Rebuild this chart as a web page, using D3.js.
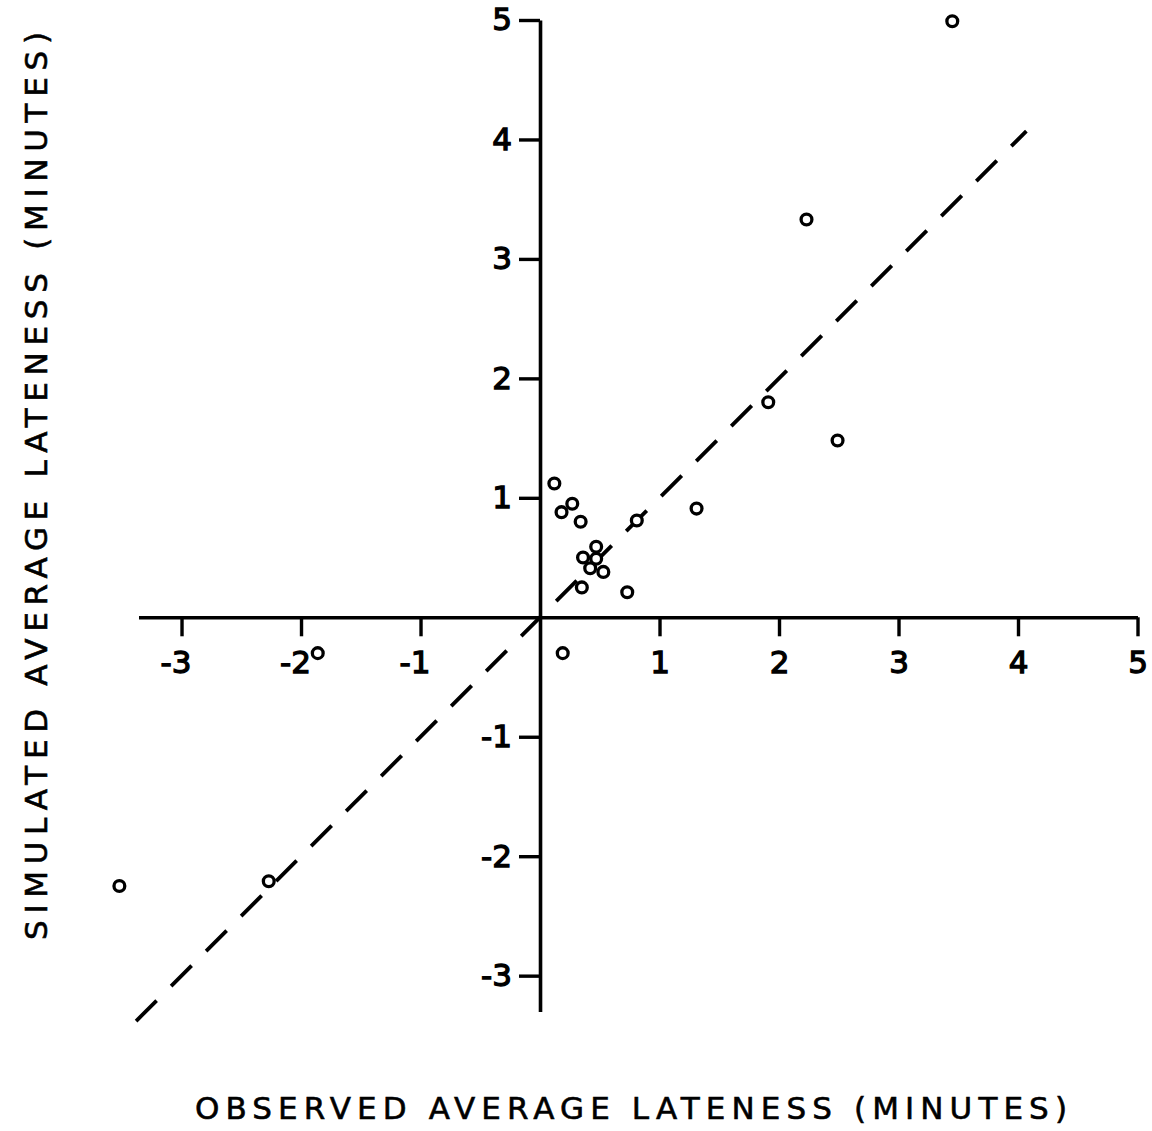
<!DOCTYPE html>
<html>
<head>
<meta charset="utf-8">
<script src="https://cdn.jsdelivr.net/npm/d3@7"></script>
<style>
  html, body { margin: 0; padding: 0; background: #fff; }
  svg { display: block; }
</style>
</head>
<body>
<svg id="chart" width="1152" height="1131"></svg>
<script>
// Observed vs simulated average lateness, one open circle per route
const observed  = [3.45, 2.23, 1.91, 2.49, 1.31, 0.81, 0.12, 0.18, 0.27, 0.34, 0.47, 0.36, 0.47, 0.42, 0.53, 0.35, 0.73, 0.19, -1.86, -2.27, -3.52];
const simulated = [4.99, 3.33, 1.80, 1.48, 0.91, 0.81, 1.12, 0.88, 0.95, 0.80, 0.59, 0.50, 0.49, 0.41, 0.38, 0.25, 0.21, -0.30, -0.30, -2.21, -2.25];

// Line of equality (simulated = observed)
const equalityLine = [-3.38, 4.07];

const xTicks = [-3, -2, -1, 1, 2, 3, 4, 5];
const yTicks = [-3, -2, -1, 1, 2, 3, 4, 5];
const xTickLabels = ["-3", "-2", "-1", "1", "2", "3", "4", "5"];
const yTickLabels = ["-3", "-2", "-1", "1", "2", "3", "4", "5"];

const xTitle = "OBSERVED AVERAGE LATENESS (MINUTES)";
const yTitle = "SIMULATED AVERAGE LATENESS (MINUTES)";

const svg = d3.select("#chart");
const font = "'DejaVu Sans', 'Liberation Sans', sans-serif";

const x = d3.scaleLinear().domain([-3.36, 5]).range([138.5, 1137.5]);
const y = d3.scaleLinear().domain([-3.3, 5]).range([1011.5, 20]);

// Axes cross at the origin
const xAxis = d3.axisBottom(x)
  .tickValues(xTicks)
  .tickFormat((d, i) => xTickLabels[i])
  .tickSizeInner(19)
  .tickSizeOuter(0)
  .tickPadding(15);

const yAxis = d3.axisLeft(y)
  .tickValues(yTicks)
  .tickFormat((d, i) => yTickLabels[i])
  .tickSizeInner(21)
  .tickSizeOuter(0)
  .tickPadding(7);

const gx = svg.append("g")
  .attr("transform", `translate(0,${y(0)})`)
  .call(xAxis);

const gy = svg.append("g")
  .attr("transform", `translate(${x(0)},0)`)
  .call(yAxis);

[gx, gy].forEach(g => {
  g.select(".domain").attr("stroke", "#000").attr("stroke-width", 3.6);
  g.selectAll(".tick line").attr("stroke", "#000").attr("stroke-width", 3.4);
  g.selectAll(".tick text")
    .attr("fill", "#000")
    .attr("stroke", "#000")
    .attr("stroke-width", 1.3)
    .style("font-family", font)
    .style("font-size", "31px");
});

// keep the digit of a negative label centred under its tick
gx.selectAll(".tick text").attr("dx", d => d < 0 ? -6 : 0);

// Dashed line of equality
svg.append("line")
  .attr("x1", x(equalityLine[0])).attr("y1", y(equalityLine[0]))
  .attr("x2", x(equalityLine[1])).attr("y2", y(equalityLine[1]))
  .attr("stroke", "#000")
  .attr("stroke-width", 3.8)
  .attr("stroke-dasharray", "29,20.5");

// Data points
svg.append("g")
  .selectAll("circle")
  .data(observed.map((o, i) => ({ o, s: simulated[i] })))
  .join("circle")
  .attr("cx", d => x(d.o))
  .attr("cy", d => y(d.s))
  .attr("r", 5.4)
  .attr("fill", "#fff")
  .attr("stroke", "#000")
  .attr("stroke-width", 3.3);

// Axis titles
svg.append("text")
  .attr("x", 631)
  .attr("y", 1119)
  .attr("text-anchor", "middle")
  .attr("textLength", 872)
  .attr("lengthAdjust", "spacing")
  .style("font-family", font)
  .style("font-size", "31px")
  .attr("fill", "#000")
  .attr("stroke", "#000")
  .attr("stroke-width", 0.6)
  .text(xTitle);

svg.append("text")
  .attr("transform", "translate(47,486) rotate(-90)")
  .attr("text-anchor", "middle")
  .attr("textLength", 908)
  .attr("lengthAdjust", "spacing")
  .style("font-family", font)
  .style("font-size", "31px")
  .attr("fill", "#000")
  .attr("stroke", "#000")
  .attr("stroke-width", 0.6)
  .text(yTitle);
</script>
</body>
</html>
